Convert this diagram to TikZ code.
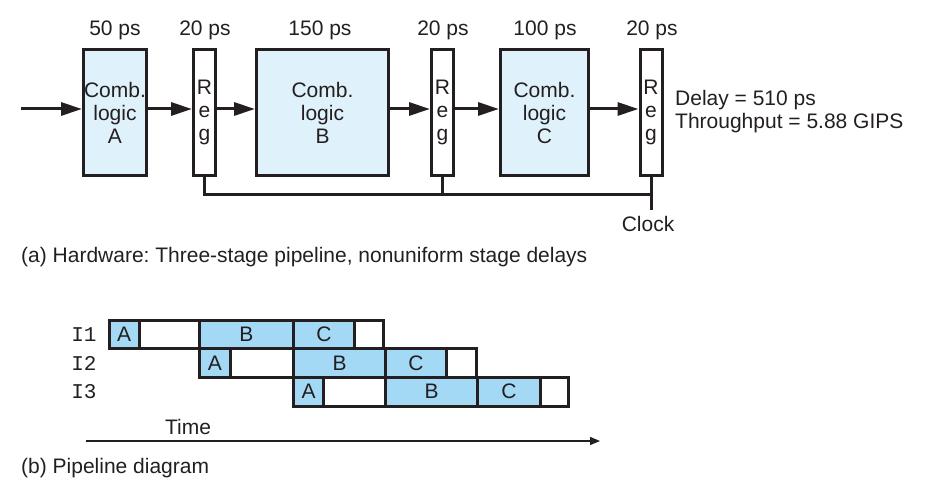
\documentclass[tikz,border=0pt]{standalone}
\usepackage{fontspec}
\setmainfont{Liberation Sans}
\setmonofont{Liberation Mono}
\usetikzlibrary{arrows.meta}
\definecolor{lightfill}{HTML}{DFF1FB}
\definecolor{cellfill}{HTML}{A3D9F5}
\definecolor{ink}{HTML}{231F20}
\frenchspacing
\begin{document}
\begin{tikzpicture}[x=1pt,y=-1pt,
  every node/.style={font=\fontsize{21}{23}\selectfont, text=ink, inner sep=0pt},
  comb/.style={draw=ink, line width=3pt, fill=lightfill, minimum height=126pt, align=center},
  regbox/.style={draw=ink, line width=3pt, fill=white, minimum width=22pt, minimum height=126pt, align=center},
  wire/.style={draw=ink, line width=3pt},
  arr/.style={wire, -{Triangle[length=21pt,width=13pt]}},
  cell/.style={draw=ink, line width=3pt, minimum height=28.5pt, anchor=west},
  blue/.style={cell, fill=cellfill},
  blank/.style={cell, fill=white},
  rowlabel/.style={font=\ttfamily\fontsize{21}{21}\selectfont},
  timearrow/.style={draw=ink, line width=1.2pt, -{Triangle[length=10pt,width=8pt]}},
  caption/.style={anchor=west, font=\fontsize{21}{23}\selectfont}
]
\useasboundingbox (0,0) rectangle (926,502);

% ---------- (a) hardware ----------
\node[comb, minimum width=63pt] (combA) at (115,112.5) {Comb.\\logic\\A};
\node[regbox] (reg1) at (204.5,112.5) {R\\e\\g};
\node[comb, minimum width=132pt] (combB) at (322.5,112.5) {Comb.\\logic\\B};
\node[regbox] (reg2) at (442.5,112.5) {R\\e\\g};
\node[comb, minimum width=88pt] (combC) at (544.5,112.5) {Comb.\\logic\\C};
\node[regbox] (reg3) at (651,112.5) {R\\e\\g};

\node (dA) at (115,30) {50 ps};
\node (d1) at (205,30) {20 ps};
\node (dB) at (320,30) {150 ps};
\node (d2) at (443,30) {20 ps};
\node (dC) at (545,30) {100 ps};
\node (d3) at (652,30) {20 ps};

\coordinate (in) at (21,109);
\draw[arr] (in) -- (combA.west |- in);
\draw[arr] (combA.east |- in) -- (reg1.west |- in);
\draw[arr] (reg1.east |- in) -- (combB.west |- in);
\draw[arr] (combB.east |- in) -- (reg2.west |- in);
\draw[arr] (reg2.east |- in) -- (combC.west |- in);
\draw[arr] (combC.east |- in) -- (reg3.west |- in);

\coordinate (clk) at (651,210);
\coordinate (bus) at (0,195);
\draw[wire] (reg1.south) -- (reg1.south |- bus) -- (reg3.south |- bus);
\draw[wire] (reg2.south) -- (reg2.south |- bus);
\draw[wire] (reg3.south) -- (clk);
\node (clocklbl) at (648,224) {Clock};

\node[anchor=west, align=left] (perf) at (675,112) {Delay = 510 ps\\Throughput = 5.88 GIPS};

\node[caption] (capa) at (21,257) {(a) Hardware: Three-stage pipeline, nonuniform stage delays};

% ---------- (b) pipeline diagram ----------
\node[rowlabel] (l1) at (84,334.75) {I1};
\node[rowlabel] (l2) at (84,363.25) {I2};
\node[rowlabel] (l3) at (84,391.75) {I3};

\node[blue,  minimum width=30.5pt] (r1a) at (107.5,334.75) {A};
\node[blank, minimum width=60pt]   (r1w) at (138,334.75) {};
\node[blue,  minimum width=94pt]   (r1b) at (198,334.75) {B};
\node[blue,  minimum width=61pt]   (r1c) at (292,334.75) {C};
\node[blank, minimum width=29pt]   (r1x) at (353,334.75) {};

\node[blue,  minimum width=31pt]   (r2a) at (198,363.25) {A};
\node[blank, minimum width=63pt]   (r2w) at (229,363.25) {};
\node[blue,  minimum width=92pt]   (r2b) at (292,363.25) {B};
\node[blue,  minimum width=61pt]   (r2c) at (384,363.25) {C};
\node[blank, minimum width=30pt]   (r2x) at (445,363.25) {};

\node[blue,  minimum width=30pt]   (r3a) at (292,391.75) {A};
\node[blank, minimum width=62pt]   (r3w) at (322,391.75) {};
\node[blue,  minimum width=92pt]   (r3b) at (384,391.75) {B};
\node[blue,  minimum width=63pt]   (r3c) at (476,391.75) {C};
\node[blank, minimum width=28pt]   (r3x) at (539,391.75) {};

\node (timelbl) at (188,427) {Time};
\coordinate (ts) at (86,441);
\coordinate (te) at (600,441);
\draw[timearrow] (ts) -- (te);

\node[caption] (capb) at (21,468) {(b) Pipeline diagram};
\end{tikzpicture}
\end{document}
